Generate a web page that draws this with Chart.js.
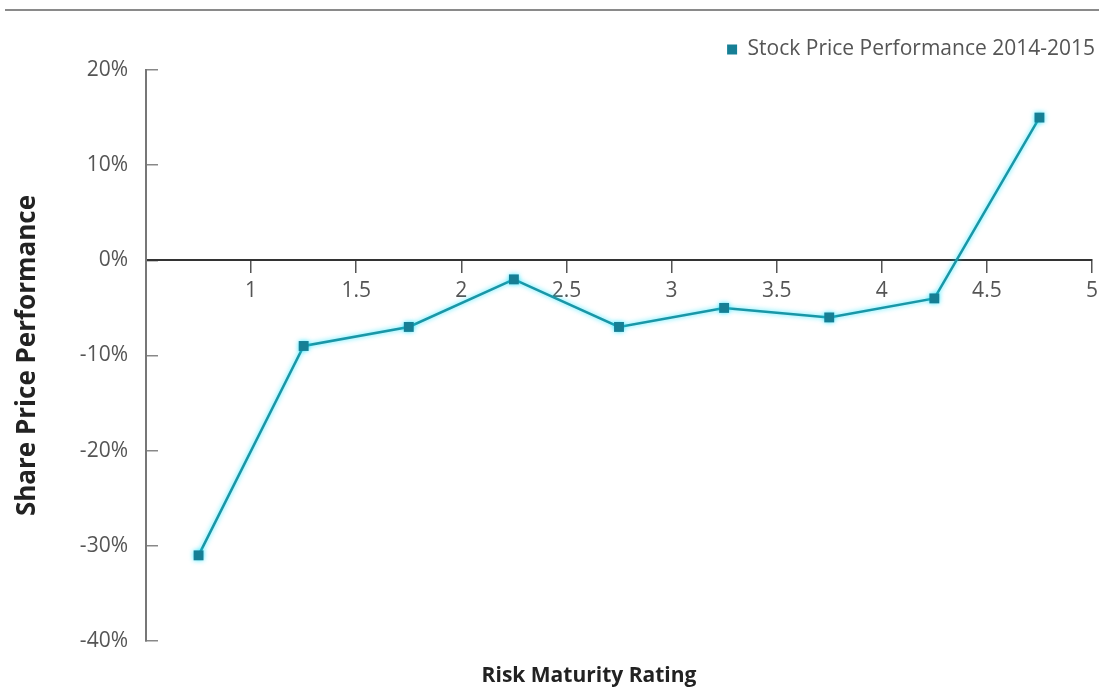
<!DOCTYPE html>
<html>
<head>
<meta charset="utf-8">
<script src="https://cdn.jsdelivr.net/npm/chart.js@4.4.1/dist/chart.umd.min.js"></script>
<style>
  html, body { margin: 0; padding: 0; background: #fff; }
  #wrap { position: relative; width: 1099px; height: 694px; }
  #topRule { position: absolute; left: 5px; right: 0; top: 9px; height: 2px; background: #8a8a8a; }
  canvas { position: absolute; left: 0; top: 0; }
</style>
</head>
<body>
<div id="wrap">
  <div id="topRule"></div>
  <canvas id="chart" width="1099" height="694"></canvas>
</div>
<script>
// data
const ratings = [0.75, 1.25, 1.75, 2.25, 2.75, 3.25, 3.75, 4.25, 4.75];
const performance = [-31, -9, -7, -2, -7, -5, -6, -4, 15];
const seriesLabel = "Stock Price Performance 2014-2015";
const xTitle = "Risk Maturity Rating";
const yTitle = "Share Price Performance";

const points = ratings.map((r, i) => ({ x: r, y: performance[i] }));

// soft cyan halo round the line, like the original
const glow = {
  id: "glow",
  beforeDatasetsDraw(chart) {
    const ctx = chart.ctx;
    ctx.save();
    ctx.shadowColor = "rgba(0, 225, 255, 0.75)";
    ctx.shadowBlur = 5;
  },
  afterDatasetsDraw(chart) {
    chart.ctx.restore();
  }
};

// the x title sits a bit left of the plot centre in the original
const nudgeTitle = {
  id: "nudgeTitle",
  afterLayout(chart) {
    const s = chart.scales.x2;
    if (s) s.left -= 60;
  }
};

new Chart(document.getElementById("chart"), {
  type: "line",
  data: {
    datasets: [{
      label: seriesLabel,
      data: points,
      borderColor: "#1a96a6",
      borderWidth: 2.5,
      tension: 0,
      pointStyle: "rect",
      pointRadius: 7,
      pointHoverRadius: 7,
      pointBackgroundColor: "#167f95",
      pointBorderColor: "#167f95",
      pointBorderWidth: 0,
      backgroundColor: "#167f95"
    }]
  },
  options: {
    responsive: false,
    animation: false,
    layout: { padding: { top: 35, left: 0, right: 0, bottom: 0 } },
    plugins: {
      tooltip: { enabled: false },
      legend: {
        position: "top",
        align: "end",
        labels: {
          usePointStyle: true,
          boxWidth: 10,
          boxHeight: 10,
          padding: 4,
          color: "#555",
          font: { family: "'Open Sans'", size: 21 }
        }
      }
    },
    scales: {
      x: {
        type: "linear",
        position: { y: 0 },
        min: 0.5,
        max: 5,
        afterBuildTicks: (s) => { s.ticks = s.ticks.filter(t => t.value > 0.5); },
        // let the last label hang close to the right edge
        afterFit: (s) => { s.paddingRight = 2; },
        ticks: {
          stepSize: 0.5,
          autoSkip: false,
          maxRotation: 0,
          padding: 6,
          color: "#555",
          font: { family: "'Open Sans'", size: 21 },
          callback: (v) => String(v)
        },
        grid: { drawOnChartArea: false, drawTicks: true, tickLength: 12, color: "#555", lineWidth: 1.5 },
        border: { display: true, color: "#333", width: 2 }
      },
      x2: {
        type: "linear",
        position: "bottom",
        min: 0,
        max: 1,
        afterFit: (s) => { s.height = 53; },
        ticks: { display: false },
        grid: { display: false, drawTicks: false },
        border: { display: false },
        title: {
          display: true,
          text: xTitle,
          color: "#222",
          font: { family: "'Open Sans'", size: 21, weight: "bold" },
          padding: { top: 0, bottom: 5 }
        }
      },
      y: {
        type: "linear",
        position: "left",
        min: -40,
        max: 20,
        afterFit: (s) => { s.width = 146; },
        ticks: {
          stepSize: 10,
          padding: 30,
          color: "#555",
          font: { family: "'Open Sans'", size: 21 },
          callback: (v) => v + "%"
        },
        grid: { drawOnChartArea: false, drawTicks: true, tickLength: -12, color: "#888", lineWidth: 1.5 },
        border: { display: true, color: "#777", width: 2 },
        title: {
          display: true,
          text: yTitle,
          color: "#222",
          font: { family: "'Open Sans'", size: 26, weight: "bold" },
          padding: { top: 12, bottom: 0 }
        }
      }
    }
  },
  plugins: [glow, nudgeTitle]
});
</script>
</body>
</html>
